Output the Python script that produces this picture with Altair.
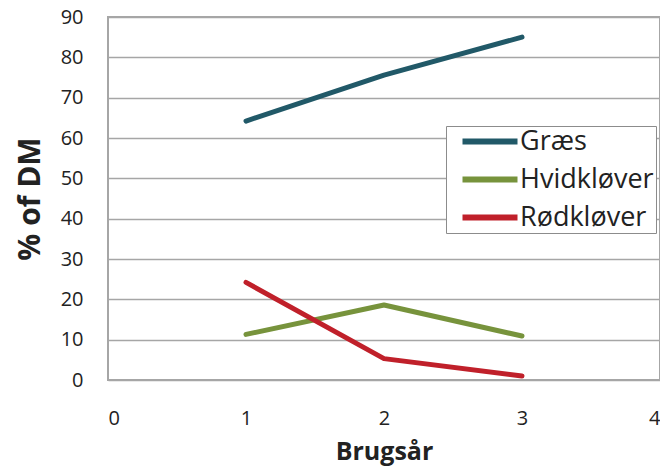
import altair as alt
import pandas as pd

years = [1, 2, 3]
graes = [64.2, 75.6, 85.0]
hvid = [11.3, 18.6, 10.9]
rod = [24.2, 5.3, 1.0]
series = ["Græs", "Hvidkløver", "Rødkløver"]
colors = ["#215968", "#77933C", "#C0202A"]

rows = []
for name, vals in zip(series, [graes, hvid, rod]):
    for x, v in zip(years, vals):
        rows.append({"Brugsår": x, "value": v, "serie": name})
df = pd.DataFrame(rows)

font = "Open Sans"

chart = alt.Chart(df).mark_line(strokeWidth=5, strokeCap="round", strokeJoin="round").encode(
    x=alt.X("Brugsår:Q", scale=alt.Scale(domain=[0, 4], nice=False),
            axis=alt.Axis(values=[0, 1, 2, 3, 4], title="Brugsår", grid=False, ticks=False,
                          domain=False, labelPadding=28, labelFontSize=20, labelColor="#222",
                          titleFontSize=25, titleFontWeight="bold", titlePadding=11,
                          titleColor="#222", labelFont=font, titleFont=font)),
    y=alt.Y("value:Q", scale=alt.Scale(domain=[0, 90], nice=False),
            axis=alt.Axis(values=list(range(0, 100, 10)), title="% of DM", grid=True,
                          gridColor="#A6A6A6", gridWidth=1.5, ticks=False, domain=False,
                          labelPadding=25, labelFontSize=20, labelColor="#222",
                          titleFontSize=30, titleFontWeight="bold", titlePadding=15,
                          titleColor="#222", labelFont=font, titleFont=font)),
    color=alt.Color("serie:N", scale=alt.Scale(domain=series, range=colors),
                    legend=alt.Legend(title=None, orient="none", legendX=338, legendY=109,
                                      symbolType="M0.1,0H5.6", symbolSize=400,
                                      symbolStrokeWidth=6,
                                      labelFontSize=27, labelFont=font, labelColor="#222",
                                      labelOffset=45, rowPadding=10,
                                      strokeColor="#8C8C8C", fillColor="white",
                                      padding=2)),
).properties(
    width=552, height=363,
    padding={"left": 100, "top": 9, "right": 0, "bottom": 86},
    autosize=alt.AutoSizeParams(type="none"),
).configure_view(stroke="#A6A6A6", strokeWidth=2)

chart.save("out.html", embed_options={"renderer": "svg", "actions": False})
